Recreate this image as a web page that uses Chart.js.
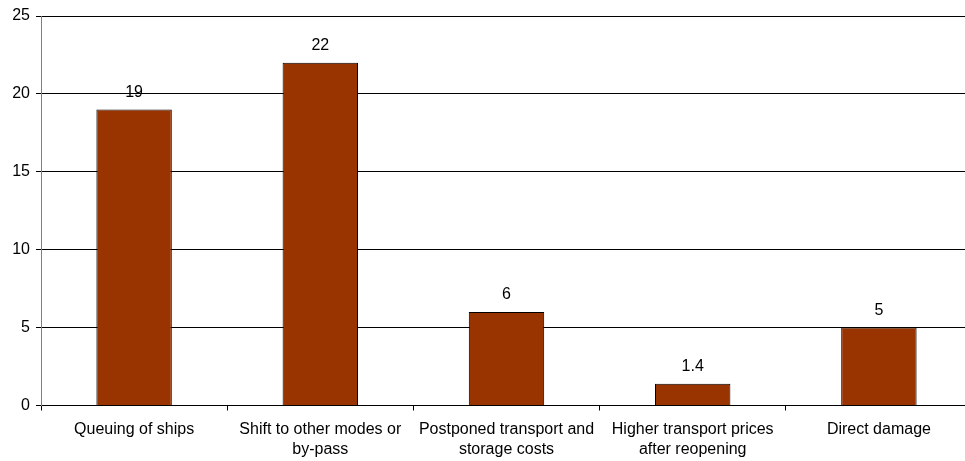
<!DOCTYPE html>
<html>
<head>
<meta charset="utf-8">
<script src="https://cdn.jsdelivr.net/npm/chart.js@4"></script>
<style>
  html, body { margin: 0; padding: 0; background: #fff; overflow: hidden; }
  #wrap { width: 972px; height: 461px; position: relative; }
</style>
</head>
<body>
<div id="wrap"><canvas id="chartBar"></canvas></div>
<script>
// data
const categories = [
  ["Queuing of ships"],
  ["Shift to other modes or", "by-pass"],
  ["Postponed transport and", "storage costs"],
  ["Higher transport prices", "after reopening"],
  ["Direct damage"]
];
const values = [19, 22, 6, 1.4, 5];
const yTicks = [0, 5, 10, 15, 20, 25];

const FONT = "'Liberation Sans', Arial, sans-serif";

// label di atas batang
const valueLabels = {
  id: "valueLabels",
  afterDatasetsDraw(chart) {
    const ctx = chart.ctx;
    const meta = chart.getDatasetMeta(0);
    ctx.save();
    ctx.font = "16px " + FONT;
    ctx.fillStyle = "#000";
    ctx.textAlign = "center";
    ctx.textBaseline = "middle";
    meta.data.forEach((bar, i) => {
      ctx.fillText(String(values[i]), bar.x, bar.y - 17);
    });
    ctx.restore();
  }
};

new Chart(document.getElementById("chartBar").getContext("2d"), {
  type: "bar",
  data: {
    labels: categories,
    datasets: [{
      data: values,
      backgroundColor: "#993300",
      borderColor: "#000",
      borderWidth: 1,
      categoryPercentage: 0.81,
      barPercentage: 0.5
    }]
  },
  options: {
    responsive: true,
    maintainAspectRatio: false,
    animation: false,
    layout: { padding: { top: 16, left: 0, right: 0, bottom: 0 } },
    plugins: { legend: { display: false }, tooltip: { enabled: false } },
    scales: {
      x: {
        grid: { offset: true, drawOnChartArea: false, drawTicks: true, tickLength: 5, color: "#000" },
        border: { color: "#000" },
        ticks: { color: "#000", font: { family: FONT, size: 16, lineHeight: 1.25 }, padding: 9, maxRotation: 0, autoSkip: false },
        afterFit(axis) { axis.height = 55.5; }
      },
      y: {
        min: 0,
        max: 25,
        afterBuildTicks(axis) { axis.ticks = yTicks.map(v => ({ value: v })); },
        grid: { color: "#000", tickLength: 5 },
        border: { color: "#808080" },
        ticks: { color: "#000", font: { family: FONT, size: 16 }, padding: 6 },
        afterFit(axis) { axis.width = 41; }
      }
    }
  },
  plugins: [valueLabels]
});
</script>
</body>
</html>
